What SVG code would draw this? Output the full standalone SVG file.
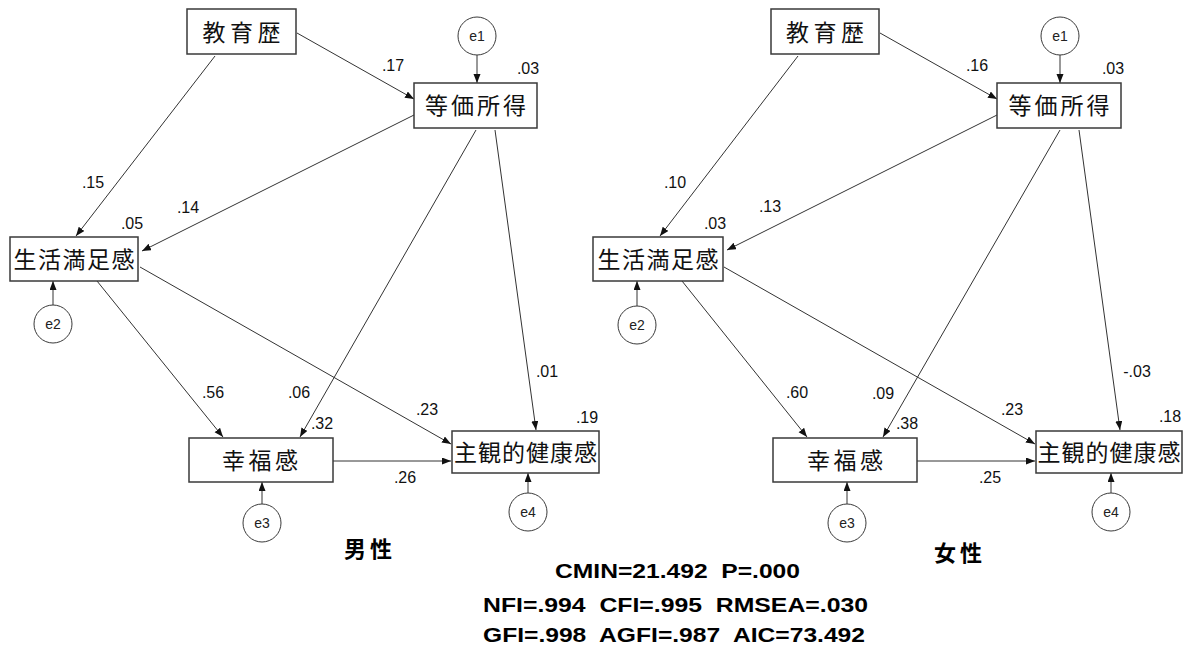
<svg xmlns="http://www.w3.org/2000/svg" width="1189" height="650" viewBox="0 0 1189 650">
<style>
.box{fill:#fff;stroke:#3a3a3a;stroke-width:1.5}
.err{fill:#fff;stroke:#3a3a3a;stroke-width:1}
.lbl{font-family:"Noto Sans CJK JP","Noto Sans CJK SC",sans-serif;font-size:23px;fill:#111;text-anchor:middle}
.num{font-family:"Liberation Sans",Arial,sans-serif;font-size:16px;fill:#111;text-anchor:middle}
.e{font-family:"Liberation Sans",Arial,sans-serif;font-size:14px;fill:#222;text-anchor:middle}
.ttl{font-family:"Noto Sans CJK JP","Noto Sans CJK SC",sans-serif;font-size:22px;font-weight:bold;fill:#000;text-anchor:middle;letter-spacing:4px}
.fit{font-family:"Liberation Sans",Arial,sans-serif;font-size:21px;font-weight:bold;fill:#000}
.c line{stroke:#333;stroke-width:1;marker-end:url(#ah)}
</style>
<defs>
<marker id="ah" markerUnits="userSpaceOnUse" markerWidth="10" markerHeight="8" refX="9" refY="3.5" orient="auto">
<path d="M0,0 L9,3.5 L0,7 z" fill="#111"/>
</marker>
</defs>
<rect width="1189" height="650" fill="#fff"/>

<!-- connectors -->
<g id="connectors" class="c">
<line x1="297" y1="33" x2="414" y2="99"/>
<line x1="215" y1="56" x2="76" y2="236"/>
<line x1="414" y1="115" x2="142" y2="251"/>
<line x1="476" y1="130" x2="300" y2="437"/>
<line x1="495" y1="130" x2="536" y2="430"/>
<line x1="97" y1="281" x2="223" y2="437"/>
<line x1="140" y1="267" x2="451" y2="444"/>
<line x1="333" y1="461" x2="451" y2="461"/>
<line x1="477" y1="55" x2="477" y2="83"/>
<line x1="53" y1="305" x2="53" y2="281"/>
<line x1="262" y1="504" x2="262" y2="482"/>
<line x1="528" y1="493" x2="528" y2="473"/>

<line x1="880" y1="33" x2="997" y2="99"/>
<line x1="798" y1="56" x2="660" y2="236"/>
<line x1="997" y1="115" x2="727" y2="250"/>
<line x1="1060" y1="130" x2="883" y2="437"/>
<line x1="1079" y1="130" x2="1120" y2="430"/>
<line x1="682" y1="281" x2="807" y2="437"/>
<line x1="724" y1="267" x2="1035" y2="444"/>
<line x1="917" y1="461" x2="1035" y2="461"/>
<line x1="1060" y1="55" x2="1060" y2="83"/>
<line x1="637" y1="306" x2="637" y2="281"/>
<line x1="847" y1="504" x2="847" y2="482"/>
<line x1="1111" y1="493" x2="1111" y2="473"/>
</g>

<!-- path labels -->
<g id="labels" class="num">
<text x="393" y="71">.17</text>
<text x="93" y="188">.15</text>
<text x="188" y="213">.14</text>
<text x="132" y="229">.05</text>
<text x="528" y="74">.03</text>
<text x="213" y="398">.56</text>
<text x="299" y="398">.06</text>
<text x="322" y="429">.32</text>
<text x="427" y="415">.23</text>
<text x="547" y="377">.01</text>
<text x="587" y="423">.19</text>
<text x="405" y="483">.26</text>

<text x="977" y="71">.16</text>
<text x="675" y="188">.10</text>
<text x="770" y="212">.13</text>
<text x="715" y="229">.03</text>
<text x="1113" y="74">.03</text>
<text x="797" y="398">.60</text>
<text x="883" y="399">.09</text>
<text x="907" y="429">.38</text>
<text x="1012" y="415">.23</text>
<text x="1137" y="377">-.03</text>
<text x="1170" y="422">.18</text>
<text x="990" y="483">.25</text>
</g>

<!-- male nodes -->
<g id="m_edu"><rect class="box" x="187" y="9" width="109" height="45"/><text class="lbl" x="241.5" y="40.5" textLength="78" lengthAdjust="spacing">教育歴</text></g>
<g id="m_inc"><rect class="box" x="414" y="83" width="123" height="45"/><text class="lbl" x="475.5" y="114" textLength="101" lengthAdjust="spacing">等価所得</text></g>
<g id="m_life"><rect class="box" x="10" y="237" width="128" height="44"/><text class="lbl" x="74" y="267.5" textLength="121" lengthAdjust="spacing">生活満足感</text></g>
<g id="m_hap"><rect class="box" x="189" y="438" width="144" height="44"/><text class="lbl" x="260" y="468.5" textLength="76" lengthAdjust="spacing">幸福感</text></g>
<g id="m_hlth"><rect class="box" x="452" y="431" width="147" height="42"/><text class="lbl" x="525.5" y="460.5" textLength="143" lengthAdjust="spacing">主観的健康感</text></g>
<g id="m_e1"><circle class="err" cx="477" cy="36" r="19"/><text class="e" x="477" y="41">e1</text></g>
<g id="m_e2"><circle class="err" cx="53" cy="324" r="19"/><text class="e" x="53" y="329">e2</text></g>
<g id="m_e3"><circle class="err" cx="262" cy="523" r="19"/><text class="e" x="262" y="528">e3</text></g>
<g id="m_e4"><circle class="err" cx="528" cy="512" r="19"/><text class="e" x="528" y="517">e4</text></g>
<text class="ttl" x="370" y="557">男性</text>

<!-- female nodes -->
<g id="f_edu"><rect class="box" x="771" y="9" width="108" height="45"/><text class="lbl" x="825" y="40.5" textLength="78" lengthAdjust="spacing">教育歴</text></g>
<g id="f_inc"><rect class="box" x="997" y="83" width="124" height="45"/><text class="lbl" x="1059" y="114" textLength="101" lengthAdjust="spacing">等価所得</text></g>
<g id="f_life"><rect class="box" x="593" y="237" width="130" height="44"/><text class="lbl" x="658" y="267.5" textLength="121" lengthAdjust="spacing">生活満足感</text></g>
<g id="f_hap"><rect class="box" x="773" y="438" width="144" height="44"/><text class="lbl" x="845" y="468.5" textLength="76" lengthAdjust="spacing">幸福感</text></g>
<g id="f_hlth"><rect class="box" x="1036" y="431" width="146" height="42"/><text class="lbl" x="1109" y="460.5" textLength="143" lengthAdjust="spacing">主観的健康感</text></g>
<g id="f_e1"><circle class="err" cx="1060" cy="36" r="19"/><text class="e" x="1060" y="41">e1</text></g>
<g id="f_e2"><circle class="err" cx="637" cy="325" r="19"/><text class="e" x="637" y="330">e2</text></g>
<g id="f_e3"><circle class="err" cx="847" cy="523" r="19"/><text class="e" x="847" y="528">e3</text></g>
<g id="f_e4"><circle class="err" cx="1111" cy="512" r="19"/><text class="e" x="1111" y="517">e4</text></g>
<text class="ttl" x="960" y="561">女性</text>

<!-- fit indices -->
<g id="fit" class="fit">
<text x="555" y="578" textLength="245" lengthAdjust="spacingAndGlyphs" xml:space="preserve">CMIN=21.492  P=.000</text>
<text x="483" y="612" textLength="385" lengthAdjust="spacingAndGlyphs" xml:space="preserve">NFI=.994  CFI=.995  RMSEA=.030</text>
<text x="483" y="642" textLength="382" lengthAdjust="spacingAndGlyphs" xml:space="preserve">GFI=.998  AGFI=.987  AIC=73.492</text>
</g>
</svg>
